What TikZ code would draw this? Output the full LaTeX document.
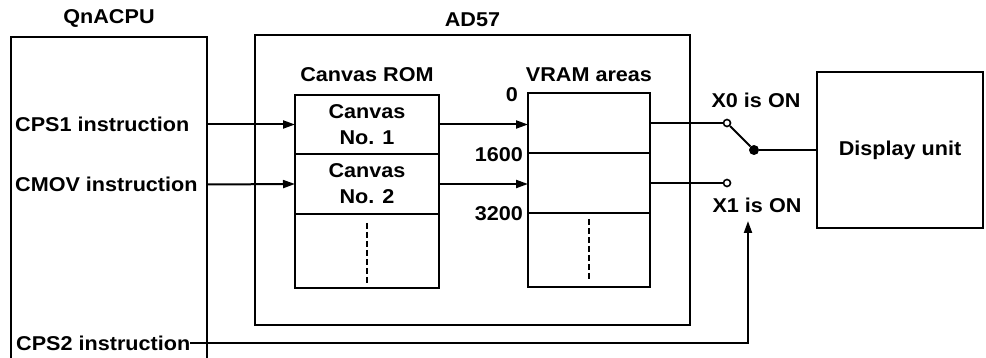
\documentclass[tikz,border=0pt]{standalone}
\usepackage{fontspec}
\setmainfont{Liberation Sans}[FakeStretch=1.08]
\usetikzlibrary{arrows.meta,positioning}

\begin{document}
\begin{tikzpicture}[x=1pt,y=-1pt,
  font=\fontsize{20}{26}\selectfont\bfseries,
  blk/.style={draw,line width=2pt,anchor=north west,inner sep=0pt,outer sep=0pt},
  lbl/.style={inner sep=0pt},
  feed/.style={line width=2pt,-{Triangle[length=12pt,width=8pt]}},
  wire/.style={line width=2pt},
  dots/.style={line width=2pt,dash pattern=on 6pt off 3pt},
  term/.style={circle,draw,line width=1.6pt,fill=white,inner sep=0pt,minimum size=7pt},
  pivot/.style={circle,fill,inner sep=0pt,minimum size=10pt}
]

\useasboundingbox (0,0) rectangle (986,358);
\clip (0,0) rectangle (986,358);

% QnACPU
\node[blk,minimum width=196pt,minimum height=340pt] (cpu) at (11,37) {};
\node[lbl,above=9pt of cpu] (cpulbl) {QnACPU};

\node[lbl,anchor=west] (cps1) at (15,124.5) {CPS1 instruction};
\node[lbl,anchor=west] (cmov) at (15,184.5) {CMOV instruction};
\node[lbl,anchor=west] (cps2) at (16,343) {CPS2 instruction};

% AD57
\node[blk,minimum width=435pt,minimum height=290pt] (ad57) at (255,35) {};
\node[lbl,above=8pt of ad57] (adlbl) {AD57};

\node[blk,minimum width=144pt,minimum height=59pt,align=center] (rom1) at (295,95) {Canvas\\No. 1};
\node[blk,minimum width=144pt,minimum height=60pt,align=center,below=0pt of rom1] (rom2) {Canvas\\No. 2};
\node[blk,minimum width=144pt,minimum height=74pt,below=0pt of rom2] (rom3) {};
\node[lbl,above=13pt of rom1] (romlbl) {Canvas ROM};

\node[blk,minimum width=122pt,minimum height=60pt] (vram1) at (528,93) {};
\node[blk,minimum width=122pt,minimum height=60pt,below=0pt of vram1] (vram2) {};
\node[blk,minimum width=122pt,minimum height=74pt,below=0pt of vram2] (vram3) {};
\node[lbl,above=11pt of vram1] (vramlbl) {VRAM areas};

\draw[dots] ([yshift=-9pt]rom3.north) -- ([yshift=5pt]rom3.south);
\draw[dots] ([yshift=-6pt]vram3.north) -- ([yshift=7pt]vram3.south);

\node[lbl,anchor=east] (adr0) at ([xshift=-10pt,yshift=-2pt]vram1.north west) {0};
\node[lbl,anchor=east] (adr1) at ([xshift=-5pt,yshift=-2pt]vram2.north west) {1600};
\node[lbl,anchor=east] (adr2) at ([xshift=-5pt,yshift=-1pt]vram3.north west) {3200};

% display side
\node[blk,minimum width=166pt,minimum height=156pt] (disp) at (817,72) {Display unit};

\node[term] (sw0) at (727,123) {};
\node[term] (sw1) at (727,183) {};
\node[pivot] (swp) at (754,150) {};
\node[lbl] (x0lbl) at (756,100) {X0 is ON};
\node[lbl] (x1lbl) at (757,205) {X1 is ON};
\coordinate (x1in) at (748,221);

\draw[feed] (cpu.east |- cps1.east) -- (rom1.west);
\draw[feed] (cpu.east |- cmov.east) -- (rom2.west);
\draw[feed] (rom1.east) -- (rom1.east -| vram1.west);
\draw[feed] (rom2.east) -- (rom2.east -| vram2.west);

\draw[wire] (vram1.east) -- (sw0);
\draw[wire] (vram2.east) -- (sw1);
\draw[wire] (sw0) -- (swp);
\draw[wire] (swp) -- (disp.west);

\draw[feed] (cps2.east) -| (x1in);

\end{tikzpicture}
\end{document}
